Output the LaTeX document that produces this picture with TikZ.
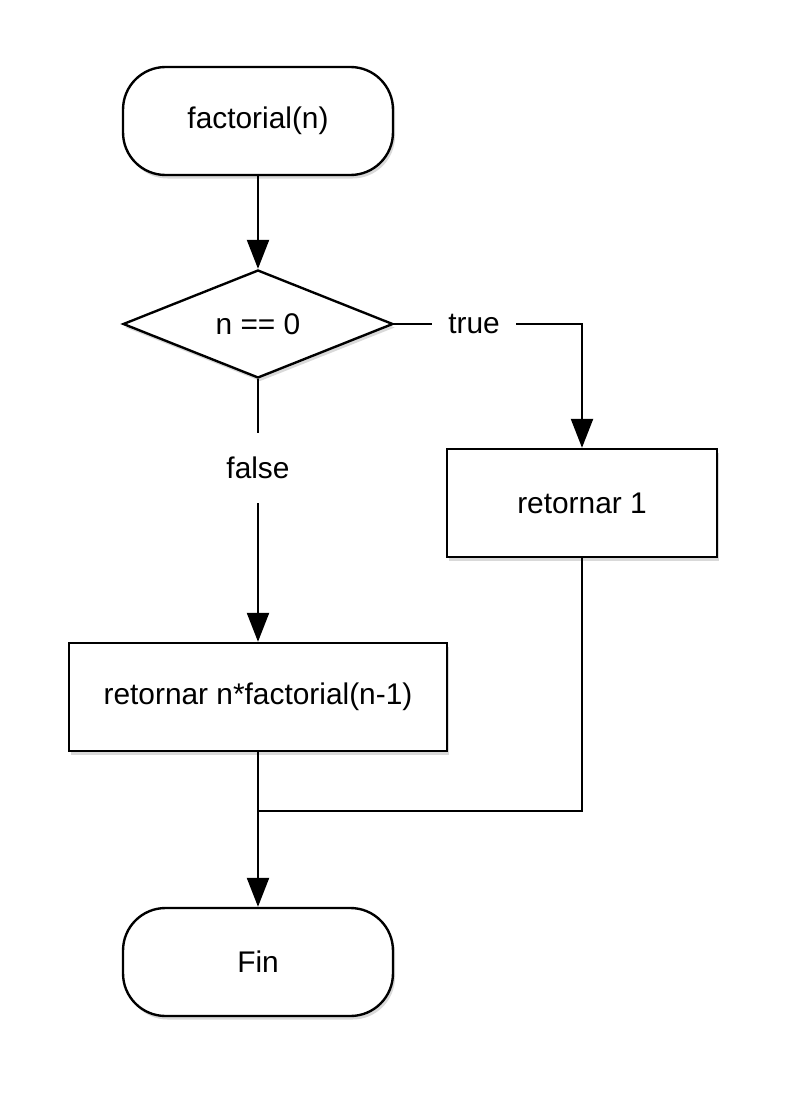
\documentclass[tikz,border=0pt]{standalone}
\usepackage{fontspec}
\setmainfont{Liberation Sans}
\usetikzlibrary{shapes.geometric,arrows.meta,shadows}
\begin{document}
\begin{tikzpicture}[x=0.02cm,y=-0.02cm,
  shd/.style={drop shadow={opacity=0.3,shadow xshift=1.2pt,shadow yshift=-2pt}},
  base/.style={draw,line width=1.35pt,fill=white,shd,font=\fontsize{17}{20}\selectfont,inner sep=0pt},
  term/.style={base,rectangle,rounded corners=0.85cm,minimum width=5.4cm,minimum height=2.16cm},
  proc/.style={base,rectangle,minimum height=2.16cm},
  dec/.style={base,diamond,aspect=2.5,minimum width=5.4cm,minimum height=2.16cm},
  conn/.style={line width=1.35pt},
  arr/.style={conn,-{Triangle[length=16.5pt,width=12.5pt]}},
  lbl/.style={fill=white,font=\fontsize{17}{20}\selectfont,inner sep=0pt}
]
\useasboundingbox (0,0) rectangle (789,1095);
\node[term] (start) at (258,121) {factorial(n)};
\node[dec] (cond) at (258,324) {n == 0};
\node[proc,minimum width=5.4cm] (r1) at (582,503) {retornar 1};
\node[proc,minimum width=7.56cm] (rn) at (258,697) {retornar n*factorial(n-1)};
\node[term] (fin) at (258,962) {Fin};
\coordinate (tc) at (582,324);
\coordinate (jr) at (582,811);
\coordinate (jl) at (258,811);
\draw[arr] (start.south) -- (cond.north);
\draw[arr] (cond.east) -- (tc) -- (r1.north);
\node[lbl,minimum width=1.7cm,minimum height=0.8cm] (tl) at (474,324) {true};
\draw[arr] (cond.south) -- (rn.north);
\node[lbl,minimum width=1.2cm,minimum height=1.4cm] (fl) at (258,468) {false};
\draw[conn] (r1.south) -- (jr) -- (jl);
\draw[arr] (rn.south) -- (fin.north);
\end{tikzpicture}
\end{document}
